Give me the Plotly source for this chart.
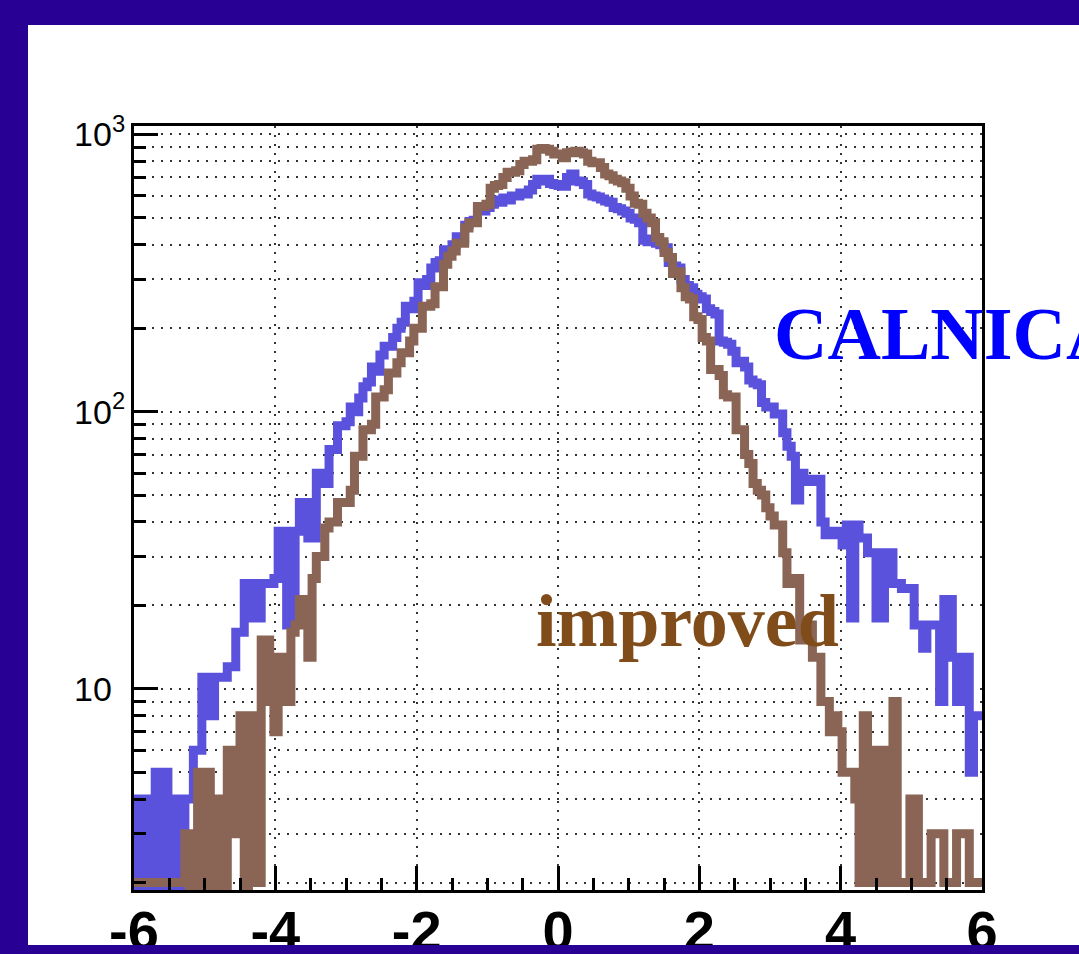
import numpy as np
import plotly.graph_objects as go

# ---------------- data ----------------
x_min, x_max = -6.0, 6.0
n_bins = 200

calnica = [4, 1, 4, 1, 1, 5, 1, 5, 1, 1,
           4, 1, 4, 4, 6, 6, 11, 11, 8, 11,
           11, 11, 12, 12, 16, 16, 24, 24, 18, 18,
           24, 24, 24, 25, 37, 37, 17, 17, 37, 47,
           47, 35, 35, 60, 60, 55, 73, 73, 89, 89,
           92, 104, 100, 112, 123, 128, 145, 140, 160, 172,
           172, 185, 200, 210, 240, 235, 250, 292, 285, 300,
           330, 345, 350, 384, 380, 400, 428, 420, 470, 485,
           490, 537, 530, 545, 560, 580, 570, 590, 580, 600,
           600, 615, 610, 630, 660, 690, 680, 690, 665, 660,
           655, 650, 700, 720, 680, 675, 660, 610, 600, 595,
           585, 575, 570, 545, 540, 530, 520, 500, 495, 480,
           415, 410, 420, 405, 400, 390, 345, 335, 330, 300,
           285, 280, 265, 260, 255, 235, 230, 225, 180, 178,
           175, 165, 150, 152, 145, 130, 127, 125, 108, 104,
           104, 98, 98, 84, 75, 69, 48, 60, 56, 56,
           57, 57, 40, 36, 36, 37, 37, 33, 39, 18,
           39, 35, 35, 31, 31, 18, 18, 31, 31, 24,
           24, 23, 23, 23, 17, 17, 14, 17, 17, 17,
           9, 21, 21, 13, 9, 13, 13, 5, 8, 8]

improved = [2, 2, 2, 2, 2, 2, 2, 2, 2, 2,
            2, 2, 3, 1, 3, 5, 1, 5, 1, 4,
            4, 1, 6, 4, 3, 8, 1, 8, 7, 2,
            15, 15, 9, 7, 13, 13, 9, 16, 17, 21,
            21, 13, 25, 30, 30, 38, 40, 40, 47, 47,
            47, 52, 69, 69, 86, 86, 90, 113, 113, 120,
            138, 138, 150, 163, 163, 180, 200, 200, 240, 240,
            245, 282, 282, 340, 364, 380, 405, 405, 460, 480,
            480, 550, 550, 560, 640, 655, 660, 700, 730, 730,
            740, 780, 800, 800, 810, 885, 890, 885, 870, 850,
            850, 825, 860, 865, 870, 860, 850, 800, 790, 790,
            760, 720, 710, 690, 680, 670, 640, 600, 565, 560,
            520, 500, 480, 425, 410, 375, 360, 315, 320, 280,
            260, 255, 220, 215, 185, 180, 142, 142, 135, 115,
            113, 113, 86, 86, 70, 65, 55, 52, 50, 45,
            42, 39, 39, 31, 24, 24, 25, 15, 17, 17,
            13, 13, 9, 9, 7, 8, 7, 5, 5, 5,
            4, 2, 8, 2, 2, 6, 6, 2, 2, 9,
            2, 2, 2, 4, 4, 2, 2, 2, 3, 3,
            3, 2, 2, 2, 3, 3, 3, 2, 2, 2]

x_tick_vals = [-6, -4, -2, 0, 2, 4, 6]
x_tick_text = ["-6", "-4", "-2", "0", "2", "4", "6"]
x_minor_vals = [-5.5, -5, -4.5, -3.5, -3, -2.5, -1.5, -1, -0.5,
                0.5, 1, 1.5, 2.5, 3, 3.5, 4.5, 5, 5.5]
y_tick_vals = [10, 100, 1000]
y_tick_text = ["10<sup><span style='color:rgba(0,0,0,0)'>0</span></sup>",
               "10<sup>2</sup>", "10<sup>3</sup>"]
y_minor_vals = [2, 3, 4, 5, 6, 7, 8, 9,
                20, 30, 40, 50, 60, 70, 80, 90,
                200, 300, 400, 500, 600, 700, 800, 900]
y_range_vals = [1.88, 1073.0]

label_a = "CALNICA"
label_b = "improved"

# ---------------- styles ----------------
BORDER = "rgb(40,0,148)"
BLUE_LINE = "#5a52dc"
BROWN_LINE = "#8a6454"
GRID = "#333333"

edges = np.linspace(x_min, x_max, n_bins + 1)


def step_xy(vals):
    xs = list(edges[:-1]) + [edges[-1]]
    ys = list(vals) + [vals[-1]]
    return xs, ys


fig = go.Figure()
for vals, col in [(calnica, BLUE_LINE), (improved, BROWN_LINE)]:
    xs, ys = step_xy(vals)
    fig.add_trace(go.Scatter(x=xs, y=ys, mode="lines",
                             line=dict(color=col, width=9, shape="hv"),
                             showlegend=False, hoverinfo="skip"))

L, R, T, B = 134, 97, 126, 64
W, H = 1079, 954
pw, ph = W - L - R, H - T - B


def px2x(px):
    return (px - L) / pw


def py2y(py):
    return (H - B - py) / ph


fig.update_layout(
    width=W, height=H,
    margin=dict(l=L, r=R, t=T, b=B, pad=0, autoexpand=False),
    paper_bgcolor=BORDER,
    plot_bgcolor="white",
    showlegend=False,
    shapes=[
        dict(type="rect", xref="paper", yref="paper",
             x0=px2x(28), x1=px2x(1100), y0=py2y(945), y1=py2y(25),
             fillcolor="white", line=dict(width=0), layer="below"),
        dict(type="rect", xref="paper", yref="paper",
             x0=px2x(-10), x1=px2x(1100), y0=py2y(970), y1=py2y(945),
             fillcolor=BORDER, line=dict(width=0), layer="above"),
    ],
    annotations=[
        dict(text="<b>" + label_a + "</b>", xref="paper", yref="paper",
             x=px2x(772), y=py2y(334), xanchor="left", yanchor="middle",
             showarrow=False,
             font=dict(family="Liberation Serif, Times New Roman, serif",
                       size=74, color="#0000ff")),
        dict(text="<b>" + label_b + "</b>", xref="paper", yref="paper",
             x=px2x(534), y=py2y(621), xanchor="left", yanchor="middle",
             showarrow=False,
             font=dict(family="Liberation Serif, Times New Roman, serif",
                       size=74, color="#804d1a")),
    ],
)

dash = "2px,7px"
fig.update_xaxes(
    range=[x_min, x_max], automargin=False,
    tickmode="array", tickvals=x_tick_vals,
    ticktext=["<b>" + t + "</b>" for t in x_tick_text],
    ticks="inside", ticklen=24, tickwidth=3, tickcolor="black",
    tickfont=dict(family="Liberation Sans, Arial, sans-serif", size=56, color="black"),
    ticklabelstandoff=-10,
    showline=True, linecolor="black", linewidth=3, mirror=True,
    showgrid=True, gridcolor=GRID, gridwidth=1.5, griddash=dash,
    zeroline=False,
    minor=dict(tickmode="array", tickvals=x_minor_vals, ticks="inside",
               ticklen=12, tickwidth=3, tickcolor="black", showgrid=False),
)
fig.update_yaxes(
    type="log", automargin=False,
    range=[np.log10(y_range_vals[0]), np.log10(y_range_vals[1])],
    tickmode="array", tickvals=y_tick_vals, ticktext=y_tick_text,
    ticks="inside", ticklen=24, tickwidth=3, tickcolor="black",
    tickfont=dict(family="Liberation Sans, Arial, sans-serif", size=34, color="black"),
    ticklabelstandoff=-1,
    showline=True, linecolor="black", linewidth=3, mirror=True,
    showgrid=True, gridcolor=GRID, gridwidth=1.5, griddash=dash,
    zeroline=False,
    minor=dict(tickmode="array", tickvals=y_minor_vals, ticks="inside",
               ticklen=12, tickwidth=3, tickcolor="black",
               showgrid=True, gridcolor=GRID, gridwidth=1.5, griddash=dash),
)

fig.write_html("out.html",
               config={"displayModeBar": False},
               post_script="document.body.style.margin='0';"
                           "document.body.style.overflow='hidden';")
